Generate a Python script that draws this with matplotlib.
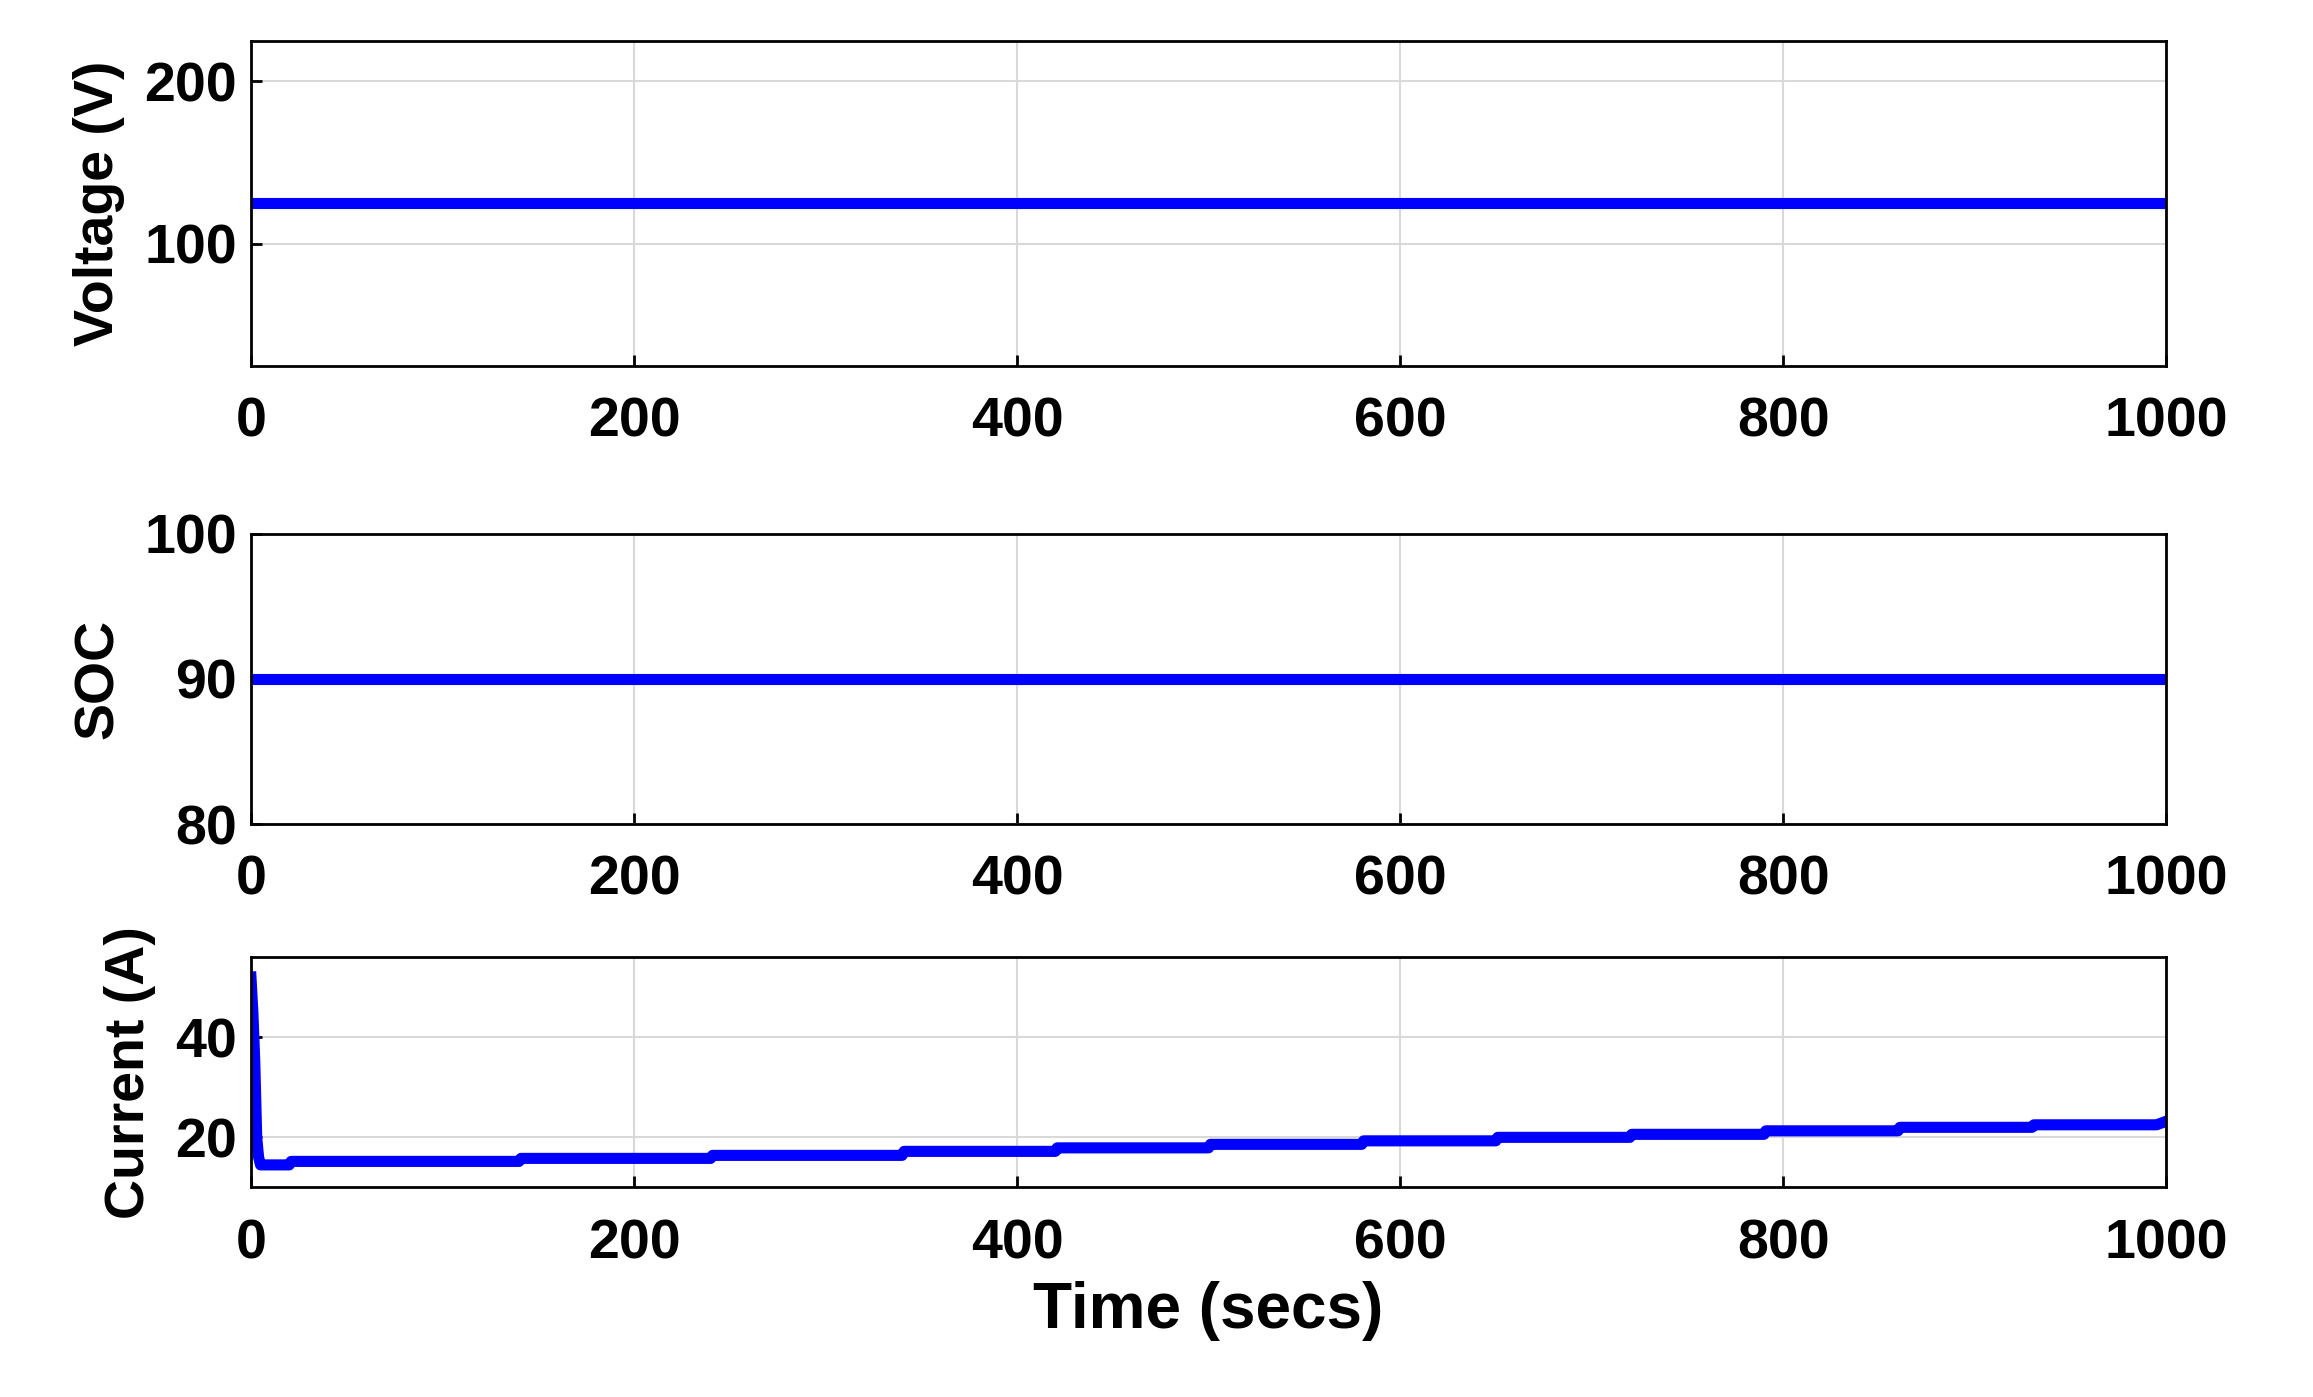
import matplotlib.pyplot as plt

plt.rcParams['font.family'] = ['Liberation Sans', 'DejaVu Sans']
plt.rcParams['font.weight'] = 'bold'

# data
t_volt = [0, 1000]
voltage = [125, 125]
t_soc = [0, 1000]
soc = [90, 90]
t_cur = [0, 1, 2, 3, 4, 5, 8, 10, 20, 21, 140, 141, 240, 241, 340, 341, 420, 421,
         500, 501, 580, 581, 650, 651, 720, 721, 790, 791, 860, 861, 930, 931, 995, 1000]
current = [52, 45, 35, 20, 16, 14.5, 14.5, 14.5, 14.5, 15.2, 15.2, 15.8, 15.8, 16.4, 16.4,
           17.2, 17.2, 17.9, 17.9, 18.6, 18.6, 19.3, 19.3, 20.0, 20.0, 20.6, 20.6, 21.3,
           21.3, 22.0, 22.0, 22.5, 22.5, 23.2]

fs = 40
fig = plt.figure(figsize=(23.13, 13.97), dpi=100)
left, width = 0.1085, 0.828
ax1 = fig.add_axes([left, 0.738, width, 0.233])
ax2 = fig.add_axes([left, 0.41, width, 0.208])
ax3 = fig.add_axes([left, 0.150, width, 0.165])

def style(ax, ylabel):
    ax.set_xlim(0, 1000)
    ax.set_xticks([0, 200, 400, 600, 800, 1000])
    ax.grid(True, color='#d9d9d9', linewidth=1.5)
    ax.tick_params(labelsize=fs, width=2, length=8, direction='in', pad=10)
    ax.tick_params(axis='x', pad=22)
    for s in ax.spines.values():
        s.set_linewidth(2)
    ax.set_ylabel(ylabel, fontsize=fs, fontweight='bold', labelpad=14)

ax1.plot(t_volt, voltage, color='#0000ff', linewidth=8)
ax1.set_ylim(25, 225)
ax1.set_yticks([100, 200])
style(ax1, 'Voltage (V)')

ax2.plot(t_soc, soc, color='#0000ff', linewidth=8)
ax2.set_ylim(80, 100)
ax2.set_yticks([80, 90, 100])
style(ax2, 'SOC')

ax3.plot(t_cur, current, color='#0000ff', linewidth=8)
ax3.set_ylim(10, 56)
ax3.set_yticks([20, 40])
style(ax3, 'Current (A)')
ax3.set_xlabel('Time (secs)', fontsize=fs + 6, fontweight='bold', labelpad=8)

fig.savefig('out.png', dpi=100)
